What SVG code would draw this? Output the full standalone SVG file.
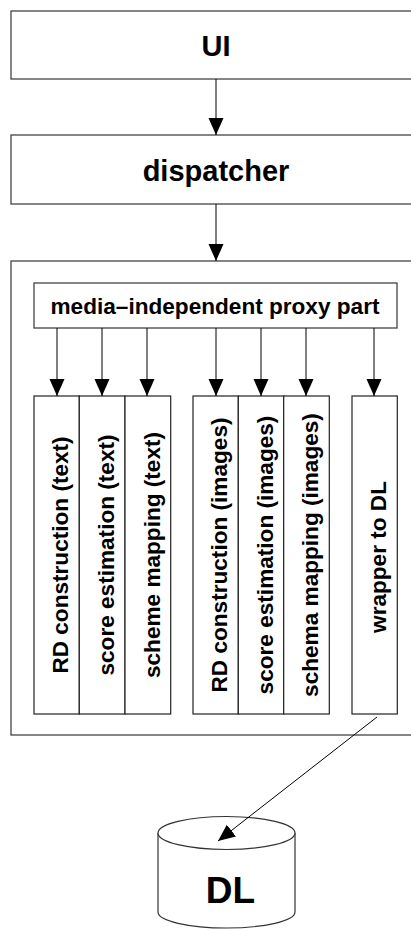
<svg xmlns="http://www.w3.org/2000/svg" width="411" height="929" viewBox="0 0 411 929">
<style>
.box{fill:#fff;stroke:#444;stroke-width:1.3}
.col{fill:#fff;stroke:#222;stroke-width:1.2}
.t{font-family:"Liberation Sans",Arial,sans-serif;font-weight:bold;fill:#000;text-anchor:middle}
.v{font-size:22.6px}
.c{stroke:#000;stroke-width:1;fill:none}
</style>
<defs>
<marker id="ah" markerUnits="userSpaceOnUse" markerWidth="18" markerHeight="16" refX="17" refY="7.5" orient="auto">
<path d="M0,0 L17,7.5 L0,15 z" fill="#000"/>
</marker>
</defs>
<rect width="411" height="929" fill="#fff"/>
<g id="ui">
<rect class="box" x="11" y="11" width="410" height="68"/>
<text class="t" x="216" y="56" font-size="29">UI</text>
</g>
<g id="dispatcher">
<rect class="box" x="11" y="135" width="410" height="69"/>
<text class="t" x="216" y="181" font-size="29">dispatcher</text>
</g>
<g id="container">
<rect class="box" x="11" y="261" width="410" height="474"/>
</g>
<g id="proxy">
<rect class="box" x="34" y="283" width="363" height="45"/>
<text class="t" x="215" y="314" font-size="22.6">media–independent proxy part</text>
</g>
<g id="rd-text">
<rect class="col" x="34" y="396" width="45.3" height="318"/>
<text class="t v" transform="translate(68,555) rotate(-90)">RD construction (text)</text>
</g>
<g id="score-text">
<rect class="col" x="79.3" y="396" width="45.7" height="318"/>
<text class="t v" transform="translate(113.5,555) rotate(-90)">score estimation (text)</text>
</g>
<g id="scheme-text">
<rect class="col" x="125" y="396" width="45.7" height="318"/>
<text class="t v" transform="translate(159.5,555) rotate(-90)">scheme mapping (text)</text>
</g>
<g id="rd-images">
<rect class="col" x="193" y="396" width="45.3" height="318"/>
<text class="t v" transform="translate(227,555) rotate(-90)">RD construction (images)</text>
</g>
<g id="score-images">
<rect class="col" x="238.3" y="396" width="45.4" height="318"/>
<text class="t v" transform="translate(272.5,555) rotate(-90)">score estimation (images)</text>
</g>
<g id="schema-images">
<rect class="col" x="283.7" y="396" width="45.6" height="318"/>
<text class="t v" transform="translate(318,555) rotate(-90)">schema mapping (images)</text>
</g>
<g id="wrapper">
<rect class="col" x="352" y="396" width="45.3" height="318"/>
<text class="t v" transform="translate(386,557) rotate(-90)">wrapper to DL</text>
</g>
<g id="dl">
<path d="M158,833 L158,912 A68.5,16 0 0 0 295,912 L295,833" fill="#fff" stroke="#333" stroke-width="1.2"/>
<ellipse cx="226.5" cy="833" rx="68.5" ry="16.5" fill="#fff" stroke="#333" stroke-width="1.2"/>
<text class="t" x="230.5" y="903" font-size="37">DL</text>
</g>
<g id="connectors">
<line class="c" x1="216" y1="79" x2="216" y2="135" marker-end="url(#ah)"/>
<line class="c" x1="216" y1="204" x2="216" y2="261" marker-end="url(#ah)"/>
<line class="c" x1="57" y1="328" x2="57" y2="396" marker-end="url(#ah)"/>
<line class="c" x1="102" y1="328" x2="102" y2="396" marker-end="url(#ah)"/>
<line class="c" x1="147" y1="328" x2="147" y2="396" marker-end="url(#ah)"/>
<line class="c" x1="216" y1="328" x2="216" y2="396" marker-end="url(#ah)"/>
<line class="c" x1="261" y1="328" x2="261" y2="396" marker-end="url(#ah)"/>
<line class="c" x1="306" y1="328" x2="306" y2="396" marker-end="url(#ah)"/>
<line class="c" x1="374" y1="328" x2="374" y2="396" marker-end="url(#ah)"/>
<line class="c" x1="377" y1="717" x2="218" y2="841" marker-end="url(#ah)"/>
</g>
</svg>
